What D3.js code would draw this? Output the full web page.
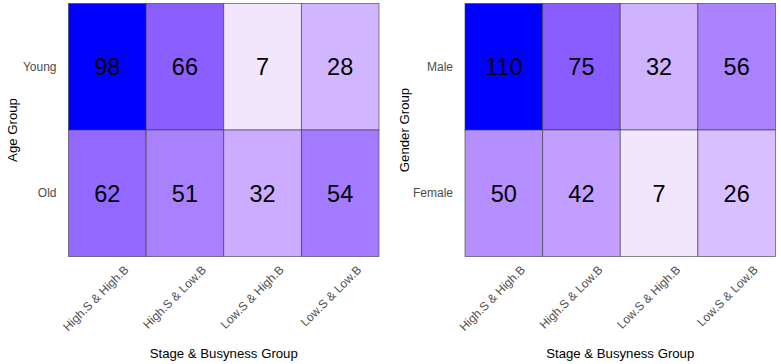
<!DOCTYPE html>
<html>
<head>
<meta charset="utf-8">
<script src="https://cdn.jsdelivr.net/npm/d3@7"></script>
<style>
  html, body { margin: 0; padding: 0; background: #fff; }
  svg { display: block; font-family: "Liberation Sans", Arial, sans-serif; }
</style>
</head>
<body>
<svg id="chart" width="781" height="364"></svg>
<script>
// ---- data ----
const stageGroups = ["High.S & High.B", "High.S & Low.B", "Low.S & High.B", "Low.S & Low.B"];
const ageGroups = ["Young", "Old"];
const ageYoung = [98, 66, 7, 28];
const ageOld = [62, 51, 32, 54];
const genderGroups = ["Male", "Female"];
const genderMale = [110, 75, 32, 56];
const genderFemale = [50, 42, 7, 26];
const xTitle = "Stage & Busyness Group";

const svg = d3.select("#chart");
const lowColor = "#F2E6FC", highColor = "#0000FF";

function panel(opts) {
  const { left, right, top, bottom, rows, rowValues, yTitle, yTitleX } = opts;
  const cells = [];
  rows.forEach((r, i) => rowValues[i].forEach((v, j) => cells.push({ row: r, col: stageGroups[j], value: v })));
  const x = d3.scaleBand().domain(stageGroups).range([left, right]);
  const y = d3.scaleBand().domain(rows).range([top, bottom]);
  const vals = cells.map(d => d.value);
  const color = d3.scaleLinear().domain(d3.extent(vals)).range([lowColor, highColor]).interpolate(d3.interpolateLab);

  const g = svg.append("g");
  g.selectAll("rect.cell").data(cells).join("rect")
    .attr("class", "cell")
    .attr("x", d => x(d.col)).attr("y", d => y(d.row))
    .attr("width", x.bandwidth()).attr("height", y.bandwidth())
    .attr("fill", d => color(d.value))
    .attr("stroke", "#3a3a3a").attr("stroke-opacity", 0.75).attr("stroke-width", 0.8);

  g.selectAll("text.val").data(cells).join("text")
    .attr("class", "val")
    .attr("x", d => x(d.col) + x.bandwidth() / 2)
    .attr("y", d => y(d.row) + y.bandwidth() / 2)
    .attr("text-anchor", "middle").attr("dy", "0.36em")
    .attr("font-size", 23.5).attr("fill", "#000")
    .text(d => d.value);

  // y axis labels
  const yAxis = d3.axisLeft(y).tickSize(0).tickPadding(12);
  const ya = g.append("g").attr("transform", `translate(${left},0)`).call(yAxis);
  ya.select(".domain").remove();
  ya.selectAll("text").attr("font-size", 12).attr("fill", "#4D4D4D").attr("font-family", "Liberation Sans, Arial, sans-serif");

  // x axis labels
  const xAxis = d3.axisBottom(x).tickSize(0).tickPadding(0);
  const xa = g.append("g").attr("transform", `translate(0,${bottom})`).call(xAxis);
  xa.select(".domain").remove();
  xa.selectAll("text")
    .attr("font-size", 12).attr("fill", "#4D4D4D").attr("font-family", "Liberation Sans, Arial, sans-serif")
    .attr("text-anchor", "end")
    .attr("dy", null).attr("y", null)
    .attr("transform", "translate(22,14) rotate(-45)");

  g.append("text")
    .attr("x", (left + right) / 2).attr("y", 358)
    .attr("text-anchor", "middle").attr("font-size", 13.2).attr("fill", "#000")
    .text(xTitle);

  g.append("text")
    .attr("transform", `translate(${yTitleX},${(top + bottom) / 2}) rotate(-90)`)
    .attr("text-anchor", "middle").attr("font-size", 13.2).attr("fill", "#000")
    .text(yTitle);
}

panel({ left: 68.5, right: 379, top: 3.5, bottom: 256.5, rows: ageGroups,
        rowValues: [ageYoung, ageOld], yTitle: "Age Group", yTitleX: 17 });
panel({ left: 465, right: 775.5, top: 3.5, bottom: 256.5, rows: genderGroups,
        rowValues: [genderMale, genderFemale], yTitle: "Gender Group", yTitleX: 409 });
</script>
</body>
</html>
